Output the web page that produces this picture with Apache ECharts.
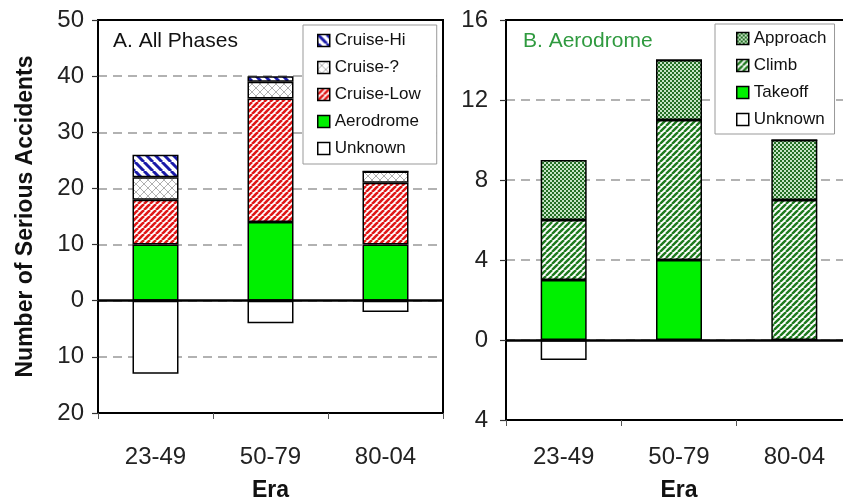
<!DOCTYPE html>
<html lang="en">
<head>
    <meta charset="UTF-8">
    <title>Serious Accidents by Era</title>
    <script src="https://cdn.jsdelivr.net/npm/echarts@6/dist/echarts.min.js"></script>
    <style>
        html, body { margin: 0; padding: 0; background: #fff; }
        #chart { width: 843px; height: 500px; }
    </style>
</head>
<body>
    <div id="chart"></div>
    <script>
        // data
        var eras = ['23-49', '50-79', '80-04'];

        // A. All Phases
        var aerodromeA = [10, 14, 10];
        var cruiseLow = [8, 22, 11];
        var cruiseQ = [4, 3, 2];
        var cruiseHi = [4, 1, 0];
        var unknownA = [-13, -4, -2];

        // B. Aerodrome
        var takeoff = [3, 4, 0];
        var climb = [3, 7, 7];
        var approach = [3, 3, 3];
        var unknownB = [-1, 0, 0];

        var ticksA = { min: -20, max: 50, interval: 10 };
        var ticksB = { min: -4, max: 16, interval: 4 };

        // fill patterns
        function stripes(color, dir, size, lw) {
            var c = document.createElement('canvas');
            c.width = c.height = size;
            var g = c.getContext('2d');
            g.fillStyle = '#fff';
            g.fillRect(0, 0, size, size);
            g.strokeStyle = color;
            g.lineWidth = lw;
            [-size, 0, size].forEach(function (k) {
                g.beginPath();
                if (dir > 0) { g.moveTo(k, size); g.lineTo(k + size, 0); }
                else { g.moveTo(k, 0); g.lineTo(k + size, size); }
                g.stroke();
            });
            return { image: c, repeat: 'repeat' };
        }
        function crosshatch(color, size, lw) {
            var c = document.createElement('canvas');
            c.width = c.height = size;
            var g = c.getContext('2d');
            g.fillStyle = '#fff';
            g.fillRect(0, 0, size, size);
            g.strokeStyle = color;
            g.lineWidth = lw;
            [-size, 0, size].forEach(function (k) {
                g.beginPath(); g.moveTo(k, size); g.lineTo(k + size, 0); g.stroke();
                g.beginPath(); g.moveTo(k, 0); g.lineTo(k + size, size); g.stroke();
            });
            return { image: c, repeat: 'repeat' };
        }
        function checker(dark, light) {
            var c = document.createElement('canvas');
            c.width = c.height = 4;
            var g = c.getContext('2d');
            g.fillStyle = light;
            g.fillRect(0, 0, 4, 4);
            g.fillStyle = dark;
            g.fillRect(0, 0, 2, 2);
            g.fillRect(2, 2, 2, 2);
            return { image: c, repeat: 'repeat' };
        }

        var GREEN = '#00f000';
        var fills = {
            hi: stripes('#1a1aa8', -1, 9, 3),
            q: crosshatch('#b0b0b0', 8, 1),
            low: stripes('#e01818', 1, 6, 2.6),
            climb: stripes('#1e7a1e', 1, 6, 2.4),
            approach: checker('#256f25', '#c6e4c6')
        };

        var font = 'Liberation Sans, Arial, sans-serif';
        var border = { borderColor: '#000', borderWidth: 1.5 };

        function bar(name, data, color, stack, idx) {
            return {
                name: name, type: 'bar', stack: stack, data: data,
                xAxisIndex: idx, yAxisIndex: idx,
                barWidth: 46,
                itemStyle: Object.assign({ color: color }, border)
            };
        }

        var zeroLine = {
            silent: true, symbol: ['none', 'none'],
            label: { show: false },
            lineStyle: { color: '#000', width: 2.5, type: 'solid' },
            data: [{ yAxis: 0 }]
        };

        function yAxis(idx, t, name, margin) {
            return {
                type: 'value', gridIndex: idx,
                min: t.min, max: t.max, interval: t.interval,
                name: name, nameLocation: 'middle', nameGap: 61,
                nameTextStyle: { fontFamily: font, fontSize: 23, fontWeight: 'bold', color: '#111' },
                axisLine: { show: true, lineStyle: { color: '#000', width: 2 } },
                axisTick: { show: true, length: 6, lineStyle: { color: '#333', width: 1.2 } },
                axisLabel: {
                    fontFamily: font, fontSize: 24, color: '#222', margin: margin,
                    formatter: function (v) { return Math.abs(v); }
                },
                splitLine: {
                    show: true, showMinLine: false, showMaxLine: false,
                    lineStyle: { color: '#999', type: [9, 6], width: 1.5 }
                }
            };
        }

        function xAxis(idx, margin, gap) {
            return {
                type: 'category', gridIndex: idx, data: eras,
                name: 'Era', nameLocation: 'middle', nameGap: gap,
                nameTextStyle: { fontFamily: font, fontSize: 23, fontWeight: 'bold', color: '#111' },
                axisLine: { show: true, onZero: false, lineStyle: { color: '#000', width: 2 } },
                axisTick: { show: true, length: 6, lineStyle: { color: '#555', width: 1 } },
                axisLabel: { fontFamily: font, fontSize: 24, color: '#222', margin: margin }
            };
        }

        var legendText = { fontFamily: font, fontSize: 17, color: '#111' };

        var chart = echarts.init(document.getElementById('chart'));
        chart.setOption({
            animation: false,
            backgroundColor: '#fff',
            title: [
                { text: 'A. All Phases', left: 113, top: 31, padding: 0,
                  textStyle: { fontFamily: font, fontSize: 21, fontWeight: 'normal', color: '#111' } },
                { text: 'B. Aerodrome', left: 523, top: 31, padding: 0,
                  textStyle: { fontFamily: font, fontSize: 21, fontWeight: 'normal', color: '#2f9a3f' } }
            ],
            legend: [
                {
                    data: ['Cruise-Hi', 'Cruise-?', 'Cruise-Low', 'Aerodrome', 'Unknown'],
                    orient: 'vertical', left: 303, top: 25,
                    padding: [7, 16, 7, 14], itemGap: 10,
                    icon: 'rect', itemWidth: 12, itemHeight: 12,
                    itemStyle: border,
                    borderColor: '#999', borderWidth: 1, backgroundColor: '#fff',
                    textStyle: legendText
                },
                {
                    data: ['Approach', 'Climb', 'Takeoff', 'Unknown'],
                    orient: 'vertical', left: 715, top: 24,
                    padding: [6, 8, 6, 21], itemGap: 10,
                    icon: 'rect', itemWidth: 12, itemHeight: 12,
                    itemStyle: border,
                    borderColor: '#999', borderWidth: 1, backgroundColor: '#fff',
                    textStyle: legendText
                }
            ],
            grid: [
                { left: 98, top: 20, width: 345, height: 393, outerBoundsMode: 'none',
                  show: true, borderColor: '#000', borderWidth: 2 },
                { left: 506, top: 20, width: 346, height: 400, outerBoundsMode: 'none',
                  show: true, borderColor: '#000', borderWidth: 2 }
            ],
            xAxis: [xAxis(0, 32, 66), xAxis(1, 25, 59)],
            yAxis: [yAxis(0, ticksA, 'Number of Serious Accidents', 14), yAxis(1, ticksB, '', 18)],
            series: [
                bar('Aerodrome', aerodromeA, GREEN, 'a', 0),
                bar('Cruise-Low', cruiseLow, fills.low, 'a', 0),
                bar('Cruise-?', cruiseQ, fills.q, 'a', 0),
                bar('Cruise-Hi', cruiseHi, fills.hi, 'a', 0),
                Object.assign(bar('Unknown', unknownA, '#fff', 'a', 0), { markLine: zeroLine }),
                bar('Takeoff', takeoff, GREEN, 'b', 1),
                bar('Climb', climb, fills.climb, 'b', 1),
                bar('Approach', approach, fills.approach, 'b', 1),
                Object.assign(bar('Unknown', unknownB, '#fff', 'b', 1), { markLine: zeroLine })
            ]
        });
    </script>
</body>
</html>
